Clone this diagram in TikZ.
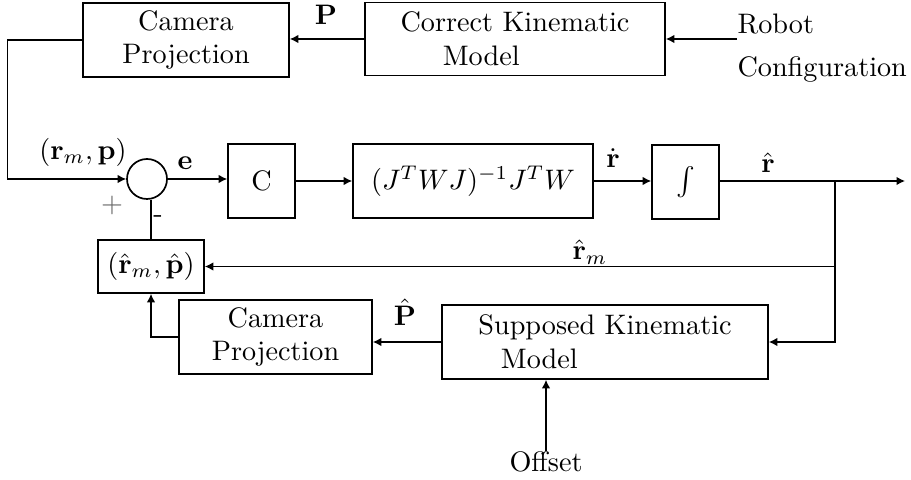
\documentclass[tikz,border=0pt]{standalone}
\usepackage{amsmath,amssymb}
\usetikzlibrary{arrows.meta}
\newcommand{\pxu}{0.3546pt}

\begin{document}
\begin{tikzpicture}[x=\pxu,y=-\pxu,
  block/.style={draw=black,line width=.6pt,inner sep=0pt,align=center},
  sum/.style={draw=black,line width=.6pt,circle,inner sep=0pt,minimum size=40*\pxu},
  link/.style={draw=black,line width=.45pt},
  feed/.style={link,-{Latex[length=3pt,width=3pt]}},
  tag/.style={inner sep=1pt}]
 \useasboundingbox (0,0) rectangle (911,480);
 \node[block,minimum width=206*\pxu,minimum height=74*\pxu] (cama) at (186,40)
   {Camera\\Projection};
 \node[block,minimum width=300*\pxu,minimum height=73*\pxu,align=left] (ckm) at (515,39)
   {Correct Kinematic\\\hspace*{15pt}Model};
 \node[anchor=west,inner sep=0pt,align=left] (robot) at (737,48)
   {Robot\\[3pt]Configuration};
 \node[sum] (sum) at (147,179) {};
 \node[block,minimum width=67*\pxu,minimum height=74*\pxu] (ctrl) at (261.5,181) {C};
 \node[block,minimum width=240*\pxu,minimum height=74*\pxu] (jac) at (473,181)
   {$(J^TWJ)^{-1}J^TW$};
 \node[block,minimum width=67*\pxu,minimum height=74*\pxu] (integ) at (685.5,182) {$\int$};
 \node[block,minimum width=106*\pxu,minimum height=53*\pxu] (rhat) at (151,266.5)
   {$(\hat{\mathbf{r}}_m,\hat{\mathbf{p}})$};
 \node[block,minimum width=193*\pxu,minimum height=74*\pxu] (camb) at (275.5,337)
   {Camera\\Projection};
 \node[block,minimum width=326*\pxu,minimum height=74*\pxu,align=left] (skm) at (605,342)
   {Supposed Kinematic\\\hspace*{8pt}Model};
 \node[inner sep=0pt] (offset) at (546,462) {Offset};
 \coordinate (out) at (905,181);
 \coordinate (br) at (835,181);

 \draw[feed] (ckm.west) -- (ckm.west -| cama.east);
 \draw[feed] (robot.west |- ckm.east) -- (ckm.east);
 \draw[feed] (cama.west) -- ++(-75,0) |- (sum.west);
 \draw[feed] (sum.east) -- (sum.east -| ctrl.west);
 \draw[feed] (ctrl.east) -- (ctrl.east -| jac.west);
 \draw[feed] (jac.east) -- (jac.east -| integ.west);
 \draw[feed] (integ.east |- out) -- (out);
 \draw[link] (br) -- (br |- rhat.east);
 \draw[feed] (br |- rhat.east) -- (rhat.east);
 \draw[feed] (br |- rhat.east) |- (skm.east);
 \draw[link] (rhat.north) -- (rhat.north |- sum.south);
 \draw[feed] (skm.west) -- (skm.west -| camb.east);
 \draw[feed] (camb.west) -| (rhat.south);
 \draw[feed] (offset.north) -- (offset.north |- skm.south);

 \node[tag] (lp) at (326,15) {$\mathbf{P}$};
 \node[tag] (lph) at (405,312) {$\hat{\mathbf{P}}$};
 \node[tag] (lrp) at (83,152) {$(\mathbf{r}_m,\mathbf{p})$};
 \node[tag] (le) at (185,163) {$\mathbf{e}$};
 \node[tag] (lrd) at (613,158) {$\dot{\mathbf{r}}$};
 \node[tag] (lrh) at (768,163) {$\hat{\mathbf{r}}$};
 \node[tag] (lrm) at (590,252) {$\hat{\mathbf{r}}_m$};
 \node[tag,text=black!60] (lplus) at (112,205) {$+$};
 \node[tag] (lminus) at (158,219) {-};
\end{tikzpicture}
\end{document}
